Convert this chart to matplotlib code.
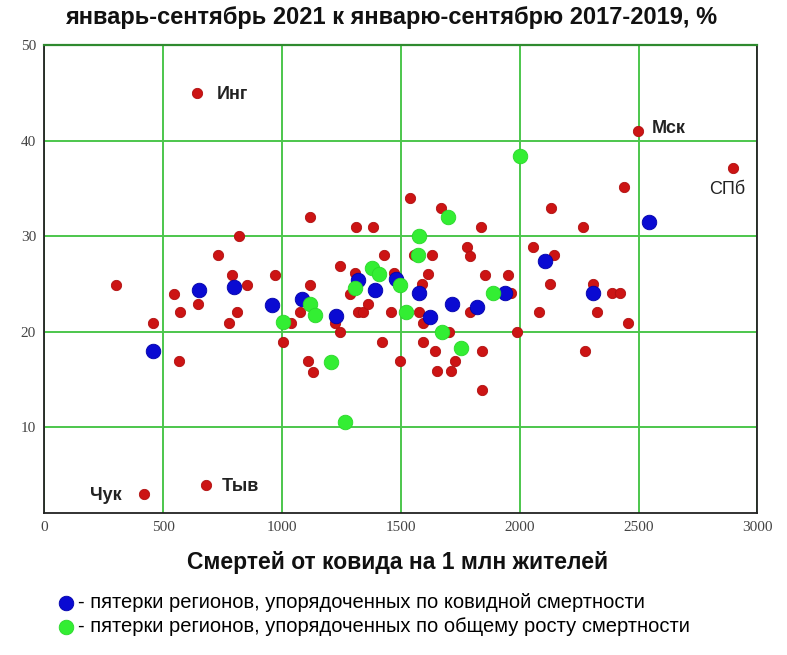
import matplotlib
matplotlib.use('Agg')
import matplotlib.pyplot as plt

# Regions: covid deaths per 1 mln (x) vs excess mortality growth, % (y)
red_x = [644, 2497, 2897, 421, 682, 303, 459, 565, 546, 570, 646, 775, 811,
         853, 789, 971, 817, 731, 1119, 1311, 1384, 1538, 1427, 1242, 1119,
         1077, 1036, 1002, 1109, 1132, 1243, 1221, 1319, 1340, 1362, 1284,
         1422, 1460, 1498, 1308, 1469, 1667, 1555, 1631, 1614, 1590, 1576,
         1839, 2131, 2439, 2265, 1780, 1792, 2056, 2142, 1854, 1952, 2126,
         2309, 2390, 2421, 1965, 1789, 2081, 2323, 2457, 1593, 1593, 1988,
         1702, 1645, 1842, 1726, 1652, 1712, 1842, 2274]
red_y = [45.0, 41.0, 37.1, 3.0, 3.9, 24.9, 20.9, 16.9, 23.9, 22.0, 22.9, 20.9,
         22.0, 24.9, 25.9, 25.9, 30.0, 28.0, 32.0, 30.9, 30.9, 34.0, 28.0, 26.9,
         24.9, 22.0, 20.9, 18.9, 16.9, 15.8, 20.0, 20.9, 22.0, 22.0, 22.9, 23.9,
         18.9, 22.0, 16.9, 26.1, 26.1, 32.9, 28.0, 28.0, 26.0, 25.0, 22.0,
         30.9, 32.9, 35.1, 30.9, 28.9, 27.9, 28.9, 28.0, 25.9, 25.9, 25.0,
         25.0, 24.0, 24.0, 24.0, 22.0, 22.0, 22.0, 20.9, 18.9, 20.9, 20.0,
         20.0, 18.0, 18.0, 16.9, 15.9, 15.9, 13.9, 18.0]

# five-region groups ordered by covid mortality
blue_x = [459, 650, 797, 959, 1084, 1225, 1319, 1389, 1480, 1576, 1624, 1717,
          1822, 1937, 2106, 2309, 2544]
blue_y = [18.0, 24.3, 24.7, 22.8, 23.4, 21.6, 25.4, 24.3, 25.5, 24.0, 21.5,
          22.9, 22.6, 24.0, 27.4, 24.0, 31.5]

# five-region groups ordered by total mortality growth
green_x = [1006, 1119, 1138, 1204, 1263, 1305, 1378, 1406, 1498, 1520, 1576,
           1571, 1700, 1674, 1754, 1889, 2000]
green_y = [21.0, 22.9, 21.7, 16.8, 10.5, 24.6, 26.6, 26.0, 24.9, 22.0, 30.0,
           28.0, 32.0, 20.0, 18.3, 24.0, 38.4]

# labelled regions: name, index in red list, offset (pt), bold
labels = [('Инг', 0, (14, -1), 'bold'),
          ('Мск', 1, (10, 2), 'bold'),
          ('СПб', 2, (-17, -15), 'normal'),
          ('Чук', 3, (-39, -1), 'bold'),
          ('Тыв', 4, (11, -1), 'bold')]

title = 'январь-сентябрь 2021 к январю-сентябрю 2017-2019, %'
xlabel = 'Смертей от ковида на 1 млн жителей'
leg_blue = '- пятерки регионов, упорядоченных по ковидной смертности'
leg_green = '- пятерки регионов, упорядоченных по общему росту смертности'

plt.rcParams['font.family'] = ['Liberation Sans', 'DejaVu Sans']

fig = plt.figure(figsize=(7.87, 6.55), dpi=100)
ax = fig.add_axes([0.0563, 0.2168, 0.9062, 0.7145])

grid_green = '#4cc64c'
ax.set_xlim(0, 3000)
ax.set_ylim(1, 50)
ax.set_xticks(range(0, 3001, 500))
ax.set_yticks(range(10, 51, 10))
ax.grid(True, color=grid_green, linewidth=1.4)
ax.set_axisbelow(True)
for side in ['left', 'bottom', 'right']:
    ax.spines[side].set_color('#222222')
    ax.spines[side].set_linewidth(1.3)
ax.spines['top'].set_color('#2f8a2f')
ax.spines['top'].set_linewidth(1.6)
ax.tick_params(length=0, pad=6, labelsize=11, labelcolor='#444444')
for lab in ax.get_xticklabels() + ax.get_yticklabels():
    lab.set_family('Liberation Serif')

ax.scatter(red_x, red_y, s=55, color='#cc1414', edgecolors='#b01010',
           linewidths=0.6, zorder=3)
hb = ax.scatter(blue_x, blue_y, s=110, color='#0a0ad2', edgecolors='#0000aa',
                linewidths=0.6, zorder=4)
hg = ax.scatter(green_x, green_y, s=110, color='#33ee33', edgecolors='#2ad82a',
                linewidths=0.6, zorder=5)

for name, i, off, wt in labels:
    ax.annotate(name, (red_x[i], red_y[i]), xytext=off,
                textcoords='offset points', fontsize=13, fontweight=wt,
                color='#222222', va='center', ha='left')

fig.text(0.497, 0.973, title, ha='center', va='center', fontsize=17,
         fontweight='bold', color='#111111')
fig.text(0.505, 0.141, xlabel, ha='center', va='center', fontsize=16.5,
         fontweight='bold', color='#111111')

fig.legend([hb, hg], [leg_blue, leg_green], loc='upper left',
           bbox_to_anchor=(0.075, 0.094), frameon=False, fontsize=14.5,
           handletextpad=0.25, handlelength=0.7, labelspacing=0.22,
           borderaxespad=0, borderpad=0)

fig.savefig('out.png', dpi=100, facecolor='white')
